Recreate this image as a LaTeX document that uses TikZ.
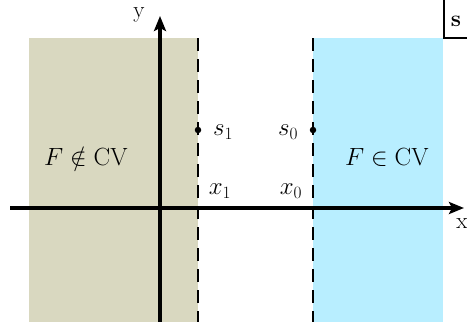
\documentclass[tikz,border=0pt]{standalone}
\usepackage{amssymb}
\usetikzlibrary{arrows.meta}
\definecolor{tanbg}{RGB}{217,216,192}
\definecolor{bluebg}{RGB}{184,238,255}
\begin{document}
\begin{tikzpicture}[x=1pt,y=-1pt,
  lbl/.style={font=\fontsize{23}{27}\selectfont, inner sep=0pt},
  axis/.style={line width=3.5pt, -{Stealth[length=15pt,width=12pt,inset=3pt]}},
  bound/.style={line width=2.2pt, dash pattern=on 13pt off 8pt, dash phase=0pt},
  pt/.style={circle, fill=black, inner sep=0pt, minimum size=6.5pt}]
\useasboundingbox (0,0) rectangle (467,322);
\fill[tanbg] (29,38) rectangle (198,322);
\fill[bluebg] (313,38) rectangle (443,322);
\coordinate (b1t) at (198,38); \coordinate (b1b) at (198,322);
\coordinate (b0t) at (313,38); \coordinate (b0b) at (313,322);
\draw[bound] (b1t) -- (b1b);
\draw[bound] (b0t) -- (b0b);
\coordinate (xs) at (10,208); \coordinate (xe) at (464,208);
\coordinate (ys) at (160,322); \coordinate (ye) at (160,16);
\draw[axis] (xs) -- (xe);
\draw[axis] (ys) -- (ye);
\node[lbl] (ylab) at (139,15) {y};
\node[lbl] (xlab) at (462,224) {x};
\node[pt] (p1) at (198,130) {};
\node[pt] (p0) at (313,130) {};
\node[lbl] (s1) at (223,132) {$s_1$};
\node[lbl] (s0) at (288,132) {$s_0$};
\node[lbl] (x1) at (220,191) {$x_1$};
\node[lbl] (x0) at (291,191) {$x_0$};
\node[lbl] (fn) at (86,157) {$F\notin\mathrm{CV}$};
\node[lbl] (fi) at (387,157) {$F\in\mathrm{CV}$};
\coordinate (c1) at (444,0); \coordinate (c2) at (444,38); \coordinate (c3) at (467,38);
\draw[line width=1.6pt] (c1) -- (c2) -- (c3);
\node[lbl, font=\fontsize{23}{27}\selectfont\bfseries] (sl) at (456,21) {s};
\end{tikzpicture}
\end{document}
